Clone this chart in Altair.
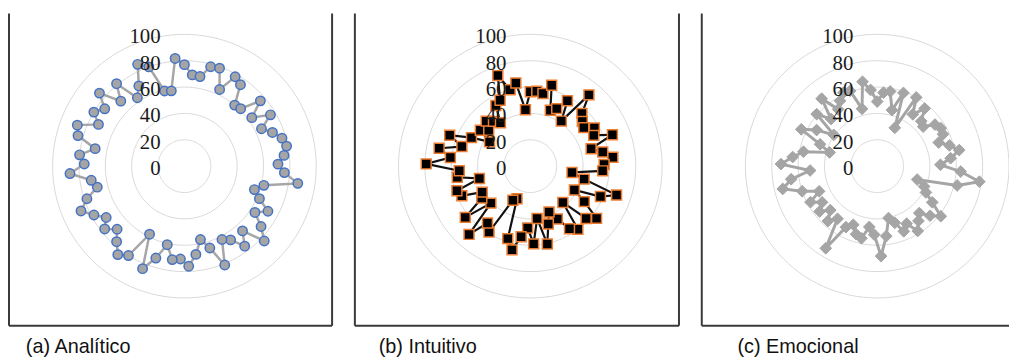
import altair as alt
import pandas as pd

# ---- data (73 spokes, values 0-100) ----
analitico = [77, 69.5, 69, 78, 79, 64, 78, 75, 60, 61,
             76, 63, 76, 65, 71.5, 77, 79, 76, 71, 76,
             87, 62, 56, 62, 72, 64, 74, 83, 66, 76,
             66, 62.5, 81, 65, 57, 67.5, 76, 70.5, 71.5, 61,
             73, 84, 58, 80, 84, 77, 70, 77, 71, 78,
             85.5, 78, 68, 71.5, 87, 76, 80, 69, 84, 87,
             72.5, 80, 74.5, 85, 69, 81, 63, 70, 85, 80,
             59, 58, 82]
intuitivo = [56.5, 57, 56, 63.5, 45, 48, 57, 41.5, 70, 56,
             52, 50, 56.6, 53.5, 66.7, 48, 56, 63, 56, 55,
             32, 42, 69, 58, 38, 49, 64, 58, 37, 60,
             56, 45, 37.6, 46, 60.5, 40, 59, 47, 54, 65,
             57.6, 26.7, 29, 59, 54, 69.6, 41, 62.8, 44, 41.5,
             56.6, 58.7, 39.7, 56, 54, 79, 61, 70.5, 54, 65.5,
             49.6, 36, 46.7, 41.6, 47.8, 44, 40, 52.9, 55, 73,
             60, 64, 43]
emocional = [49, 56, 57.5, 44, 59, 32, 60, 47.7, 56.6, 47.8,
             46, 54, 56.2, 55.5, 50, 57, 63.4, 56, 48, 63.5,
             78.4, 62.4, 32, 38.8, 42, 50, 61.4, 55, 47.8, 52,
             58, 49, 53.4, 45, 40.3, 53.5, 68.3, 52, 46.5, 56,
             54, 48, 52, 73.5, 50, 56, 48.8, 55.6, 50, 57.5,
             48, 60, 73.7, 66, 51, 73, 64.5, 57, 37.6, 46.4,
             64, 53.5, 40.6, 60.5, 50, 66.3, 52.3, 57, 61.3, 60.7,
             45, 65, 58]
rings = [20, 40, 60, 80, 100]
tick_labels = [0, 20, 40, 60, 80, 100]
captions = ["(a) Analítico", "(b) Intuitivo", "(c) Emocional"]

PX = 1.33          # pixels per value unit (100 -> 133 px)
CX = 177           # centre offset from panel left edge (px)
CY = 158           # centre offset from panel top edge (px)
H = 319


def panel(values, caption, width, cap_dx, line_color, line_width,
          shape, fill, stroke, stroke_w, size, right_border=True, clip=False):
    n = len(values)
    df = pd.DataFrame({"k": list(range(n)) + [n], "v": values + [values[0]]})
    xs = alt.Scale(domain=[-CX / PX, (width - CX) / PX], nice=False, zero=False)
    ys = alt.Scale(domain=[-(H - CY) / PX, CY / PX], nice=False, zero=False)

    ring_layer = alt.Chart(pd.DataFrame({"r": rings})).transform_calculate(
        s="sequence(0, 121)"
    ).transform_flatten(["s"]).transform_calculate(
        x="datum.r * sin(2 * PI * datum.s / 120)",
        y="datum.r * cos(2 * PI * datum.s / 120)",
    ).mark_line(color="#d9d9d9", strokeWidth=1, clip=clip).encode(
        x=alt.X("x:Q", scale=xs, axis=None),
        y=alt.Y("y:Q", scale=ys, axis=None),
        detail="r:N",
        order="s:Q",
    )

    base = alt.Chart(df).transform_calculate(
        x=f"datum.v * sin(2 * PI * datum.k / {n})",
        y=f"datum.v * cos(2 * PI * datum.k / {n})",
    ).encode(
        x=alt.X("x:Q", scale=xs, axis=None),
        y=alt.Y("y:Q", scale=ys, axis=None),
        order="k:Q",
    )
    line_layer = base.mark_line(color=line_color, strokeWidth=line_width)
    point_layer = base.transform_filter(f"datum.k < {n}").mark_point(
        shape=shape, filled=True, fill=fill, stroke=stroke,
        strokeWidth=stroke_w, size=size, opacity=1,
    )

    label_layer = alt.Chart(pd.DataFrame({"t": tick_labels})).mark_text(
        align="right", baseline="middle", dx=-24, dy=3,
        font="Liberation Serif", fontSize=21, color="#1a1a1a",
    ).encode(
        x=alt.X("z:Q", scale=xs, axis=None),
        y=alt.Y("t:Q", scale=ys, axis=None),
        text="t:Q",
    ).transform_calculate(z="0")

    one = pd.DataFrame({"a": [0]})
    bc = "#3a3a3a"
    borders = [
        alt.Chart(one).mark_rule(color=bc, strokeWidth=2).encode(
            x=alt.value(0), y=alt.value(4), y2=alt.value(H)),
        alt.Chart(one).mark_rule(color=bc, strokeWidth=2).encode(
            x=alt.value(0), x2=alt.value(width), y=alt.value(H)),
    ]
    if right_border:
        borders.append(alt.Chart(one).mark_rule(color=bc, strokeWidth=2).encode(
            x=alt.value(width), y=alt.value(4), y2=alt.value(H)))

    return alt.layer(ring_layer, line_layer, point_layer, label_layer, *borders).properties(
        width=width, height=H,
        title=alt.TitleParams(
            caption, orient="bottom", anchor="start", dx=cap_dx, offset=11,
            font="Liberation Sans", fontSize=20, fontWeight="normal", color="#111111",
        ),
    )


pa = panel(analitico, captions[0], 326, 18, "#a6a6a6", 2.5,
           "circle", "#a5a5a5", "#4472c4", 1.5, 90)
pb = panel(intuitivo, captions[1], 327, 25, "#111111", 2.2,
           "square", "#000000", "#ed7d31", 1.5, 100)
pc = panel(emocional, captions[2], 310, 37, "#a5a5a5", 3,
           "diamond", "#a5a5a5", "#a5a5a5", 1, 140, right_border=False, clip=True)

chart = alt.hconcat(pa, pb, pc, spacing=21).properties(padding=0).configure_view(stroke=None)

chart.save("out.html", embed_options={"renderer": "svg", "actions": False})
